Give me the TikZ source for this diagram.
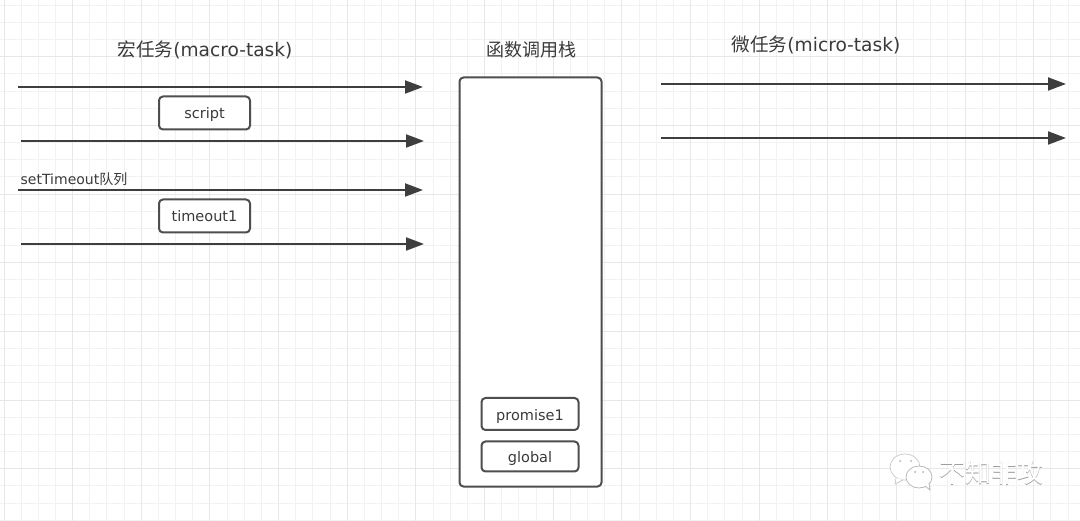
\documentclass[tikz,border=0pt]{standalone}
\usepackage{fontspec}
\setmainfont{DejaVu Sans}
\newfontfamily\cjk{Noto Sans CJK SC}
\usetikzlibrary{arrows.meta}
\definecolor{gridmajor}{HTML}{E7E7E7}
\definecolor{gridminor}{HTML}{F2F2F2}
\definecolor{inkline}{HTML}{3E3E3E}
\definecolor{boxline}{HTML}{4E4E4E}
\definecolor{inktext}{HTML}{3A3A3A}
\newcommand{\lowered}[1]{\raisebox{-6pt}[0pt][0pt]{#1}}
\tikzset{
  x=1pt,y=-1pt,
  queue/.style={draw=inkline,line width=2pt,-{Triangle[length=18pt,width=13pt,fill=inkline]}},
  task/.style={draw=boxline,line width=2pt,rounded corners=4pt,fill=white,inner sep=0pt,text=inktext,font=\fontsize{14.5}{16}\selectfont,anchor=center},
  stackbox/.style={draw=boxline,line width=2pt,rounded corners=4pt,fill=white,inner sep=0pt,minimum width=142pt,minimum height=409pt},
  heading/.style={text=inktext,inner sep=0pt,font=\fontsize{18.6}{20}\selectfont},
  wm/.style={draw=black!22,line width=.7pt,fill=white}
}
\begin{document}
\begin{tikzpicture}
\useasboundingbox (0,0) rectangle (1080,521);
\fill[white] (0,0) rectangle (1080,521);
% grid
\foreach \i in {0,...,62}{\pgfmathsetmacro\gx{floor(4.0+17.163*\i)+0.5}\draw[gridminor,line width=1pt] (\gx,0) -- (\gx,521);}
\foreach \i in {0,...,30}{\pgfmathsetmacro\gy{floor(5.3+17.163*\i)+0.5}\draw[gridminor,line width=1pt] (0,\gy) -- (1080,\gy);}
\foreach \i in {0,...,15}{\pgfmathsetmacro\gx{floor(4.0+68.65*\i)+0.5}\draw[gridmajor,line width=1pt] (\gx,0) -- (\gx,521);}
\foreach \i in {0,...,7}{\pgfmathsetmacro\gy{floor(56.8+68.65*\i)+0.5}\draw[gridmajor,line width=1pt] (0,\gy) -- (1080,\gy);}
% headings
\node[heading] (macrotitle) at (205,50) {{\cjk 宏任务}(macro-task)};
\node[heading,font=\fontsize{18}{20}\selectfont] (stacktitle) at (531,50) {\cjk 函数调用栈};
\node[heading] (microtitle) at (816,45) {{\cjk 微任务}(micro-task)};
% queue ends
\coordinate (a1s) at (18,87);   \coordinate (a1e) at (423,87);
\coordinate (a2s) at (21,141);  \coordinate (a2e) at (424,141);
\coordinate (a3s) at (18,190);  \coordinate (a3e) at (423,190);
\coordinate (a4s) at (21,244);  \coordinate (a4e) at (424,244);
\coordinate (b1s) at (661,84);  \coordinate (b1e) at (1066,84);
\coordinate (b2s) at (661,138); \coordinate (b2e) at (1066,138);
\draw[queue] (a1s) -- (a1e);
\draw[queue] (a2s) -- (a2e);
\draw[queue] (a3s) -- (a3e);
\draw[queue] (a4s) -- (a4e);
\draw[queue] (b1s) -- (b1e);
\draw[queue] (b2s) -- (b2e);
\node[text=inktext,inner sep=0pt,anchor=west,font=\fontsize{14}{16}\selectfont] (queuelabel) at (20.5,179.5) {setTimeout{\cjk 队列}};
% boxes
\node[task,minimum width=91pt,minimum height=33pt] (script) at (204.5,113) {\lowered{script}};
\node[task,minimum width=91pt,minimum height=33pt] (timeout) at (204.5,216) {\lowered{timeout1}};
\node[stackbox] (stack) at (530.5,282) {};
\node[task,minimum width=97pt,minimum height=32pt] (promise) at (530,414) {\lowered{promise1}};
\node[task,minimum width=97pt,minimum height=30pt] (global) at (530,456.5) {\lowered{global}};
% watermark
\draw[wm] (905,467) ellipse (15pt and 13pt);
\draw[wm] (896,478) -- (895,484) -- (903,480);
\draw[wm,draw=black!30] (919,477) ellipse (13pt and 11pt);
\draw[wm,draw=black!30] (925,486) -- (930,490) -- (929,483);
\fill[black!30] (900,461) circle (1pt) (911,461) circle (1pt) (915,472) circle (1pt) (923,472) circle (1pt);
\node[inner sep=0pt,text=black!38,font=\fontsize{26}{28}\selectfont] (wmshadow) at (991.8,473.8) {\cjk 不知非攻};
\node[inner sep=0pt,text=white,font=\fontsize{26}{28}\selectfont] (wmtext) at (991,473) {\cjk 不知非攻};
\end{tikzpicture}
\end{document}
